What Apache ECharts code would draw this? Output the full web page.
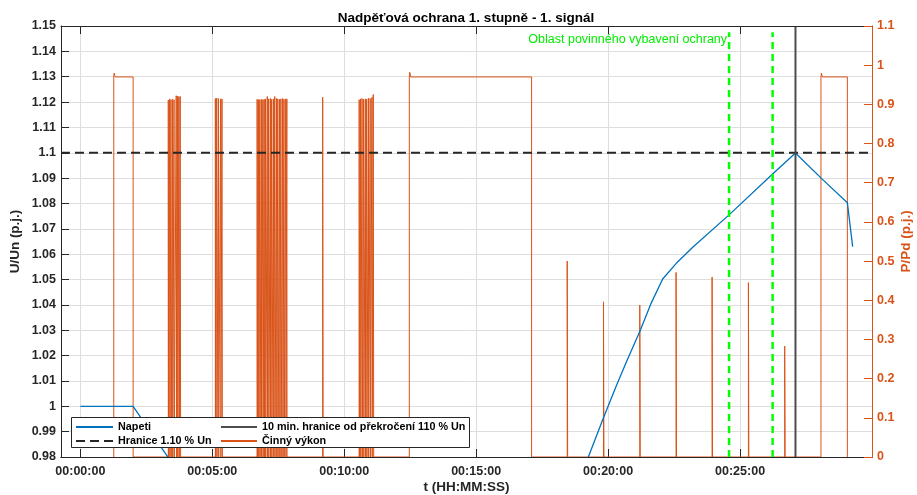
<!DOCTYPE html>
<html><head><meta charset="utf-8">
<script src="https://cdn.jsdelivr.net/npm/echarts@6/dist/echarts.min.js"></script>
<style>html,body{margin:0;padding:0;background:#fff}#c{width:917px;height:495px}</style>
</head><body><div id="c"></div>
<script>
// ---- data (time in seconds from 00:00:00) ----
const titleText = 'Nadpěťová ochrana 1. stupně - 1. signál';
const xTickValues = [0, 300, 600, 900, 1200, 1500];
const timeRange = [-44, 1800];
const uRange = [0.98, 1.15];
const pRange = [0, 1.1];

// voltage U/Un (p.j.)
const voltage = [
  [0, 1.0], [120, 1.0], [240, 0.9696], [1120, 0.9696], [1155, 0.9800],
  [1189, 0.9953], [1218, 1.0078], [1241, 1.0173], [1272, 1.0295], [1298, 1.0407],
  [1324, 1.0502], [1355, 1.0564], [1393, 1.0628], [1475, 1.0755], [1574, 1.0916],
  [1626, 1.0999], [1685, 1.0899], [1744, 1.0803], [1756, 1.0630]
];

// active power P/Pd pulses: [on, off, level]
const powerPulses = [
  [76, 120, 0.97],
  [200, 200.6, 0.911], [203, 203.6, 0.914], [206, 206.6, 0.912], [209.5, 210.1, 0.913], [213, 213.6, 0.912],
  [218, 219, 0.922], [221, 221.6, 0.921], [224, 225, 0.92], [227, 228, 0.92],
  [307, 307.6, 0.915], [310, 310.6, 0.916], [314, 314.6, 0.915], [319, 319.6, 0.914], [322, 323, 0.914],
  [402, 402.6, 0.913], [405, 405.6, 0.912], [408, 408.6, 0.912], [411.5, 412.1, 0.913], [415, 415.6, 0.912],
  [418, 418.6, 0.913], [421, 421.6, 0.914], [425, 425.6, 0.92], [428, 428.6, 0.914], [432, 432.6, 0.915],
  [435, 435.6, 0.913], [439, 439.6, 0.914], [442, 442.6, 0.92], [446, 446.6, 0.915], [449, 449.6, 0.914],
  [453, 453.6, 0.913], [456, 456.6, 0.914], [460, 460.6, 0.915], [463, 463.6, 0.913], [467, 467.6, 0.914],
  [469.5, 470, 0.914],
  [551, 552, 0.918],
  [634, 634.6, 0.912], [637, 637.6, 0.914], [640.5, 641.1, 0.915], [644, 644.6, 0.913], [648, 648.6, 0.914],
  [651, 651.6, 0.913], [655, 655.6, 0.916], [659, 659.6, 0.915], [663, 663.6, 0.918], [666, 667, 0.925],
  [748, 1026, 0.97],
  [1107, 1108, 0.5], [1189.5, 1190.5, 0.396], [1272, 1273, 0.388], [1354.5, 1355.5, 0.471],
  [1436.4, 1437.4, 0.459], [1519, 1520, 0.445], [1601.5, 1602.5, 0.283],
  [1684, 1744, 0.97]
];
const blockPeaks = [0.98, 0.982, 0.98]; // overshoot at start of long blocks

const limitU = 1.1;
const tenMinTime = 1626;
const zoneTimes = [1475, 1574];
const zoneText = 'Oblast povinného vybavení ochrany';
const zoneTextU = 1.1445;

const legendNames = ['Napeti', 'Hranice 1.10 % Un', '10 min. hranice od překročení 110 % Un', 'Činný výkon'];

// ---- build step series ----
const power = [];
let bi = 0;
powerPulses.forEach(p => {
  power.push([p[0], 0], [p[0], p[2]]);
  if (p[1] - p[0] > 20) {
    power.push([p[0] + 1, blockPeaks[bi++]], [p[0] + 3, p[2]]);
  }
  power.push([p[1], p[2]], [p[1], 0]);
});

const FONT = '"Liberation Sans", Arial, Helvetica, sans-serif';
const ORANGE = '#D95319';
const BLUE = '#0072BD';
const AXC = '#262626';

function hms(v) {
  const s = Math.round(v);
  const h = Math.floor(s / 3600), m = Math.floor((s % 3600) / 60), sec = s % 60;
  return [h, m, sec].map(x => String(x).padStart(2, '0')).join(':');
}

const legendText = {fontSize: 10.8, fontWeight: 'bold', color: '#000', lineHeight: 12, fontFamily: FONT};

const chart = echarts.init(document.getElementById('c'), null, {renderer: 'canvas'});
chart.setOption({
  animation: false,
  backgroundColor: '#fff',
  textStyle: {fontFamily: FONT},
  title: {
    text: titleText, left: 466, top: 11, textAlign: 'center', padding: 0,
    textStyle: {fontSize: 13.5, fontWeight: 'bold', color: '#000', fontFamily: FONT}
  },
  grid: {left: 61, right: 45, top: 26, bottom: 38, containLabel: false, outerBoundsMode: 'none'},
  xAxis: [
    {
      type: 'value', position: 'bottom', min: timeRange[0], max: timeRange[1],
      name: 't (HH:MM:SS)', nameLocation: 'middle', nameGap: 23, nameMoveOverlap: false,
      nameTextStyle: {fontSize: 13.5, fontWeight: 'bold', color: AXC, fontFamily: FONT},
      axisLine: {show: true, onZero: false, lineStyle: {color: AXC, width: 1}},
      axisTick: {show: true, inside: true, length: 8, customValues: xTickValues, lineStyle: {color: AXC}},
      axisLabel: {show: true, customValues: xTickValues, formatter: hms, margin: 8,
        fontSize: 12.5, fontWeight: 'bold', color: AXC, fontFamily: FONT},
      splitLine: {show: true, lineStyle: {color: '#dedede', width: 1}},
      z: 0
    },
    {
      type: 'value', position: 'top', min: timeRange[0], max: timeRange[1],
      axisLine: {show: true, onZero: false, lineStyle: {color: AXC, width: 1}},
      axisTick: {show: true, inside: true, length: 8, customValues: xTickValues, lineStyle: {color: AXC}},
      axisLabel: {show: false}, splitLine: {show: false}, z: 10
    },
    {
      type: 'value', position: 'bottom', min: timeRange[0], max: timeRange[1],
      axisLine: {show: true, onZero: false, lineStyle: {color: AXC, width: 1}},
      axisTick: {show: false}, axisLabel: {show: false}, splitLine: {show: false}, z: 10
    }
  ],
  yAxis: [
    {
      type: 'value', position: 'left', min: uRange[0], max: uRange[1], interval: 0.01,
      name: 'U/Un (p.j.)', nameLocation: 'middle', nameGap: 39, nameMoveOverlap: false,
      nameTextStyle: {fontSize: 13.5, fontWeight: 'bold', color: AXC, fontFamily: FONT},
      axisLine: {show: true, onZero: false, lineStyle: {color: AXC, width: 1}},
      axisTick: {show: true, inside: true, length: 8, lineStyle: {color: AXC}},
      axisLabel: {formatter: v => String(parseFloat(v.toFixed(2))), margin: 5,
        fontSize: 12.5, fontWeight: 'bold', color: AXC, fontFamily: FONT},
      splitLine: {show: true, lineStyle: {color: '#dedede', width: 1}}
    },
    {
      type: 'value', position: 'right', min: pRange[0], max: pRange[1], interval: 0.1,
      name: 'P/Pd (p.j.)', nameLocation: 'middle', nameGap: 27, nameMoveOverlap: false,
      nameTextStyle: {fontSize: 13.5, fontWeight: 'bold', color: ORANGE, fontFamily: FONT},
      axisLine: {show: true, onZero: false, lineStyle: {color: ORANGE, width: 1}},
      axisTick: {show: true, inside: true, length: 8, lineStyle: {color: ORANGE}},
      axisLabel: {formatter: v => String(parseFloat(v.toFixed(1))), margin: 5,
        fontSize: 12.5, fontWeight: 'bold', color: ORANGE, fontFamily: FONT},
      splitLine: {show: false}, z: 10
    }
  ],
  legend: [
    {
      data: [legendNames[0], legendNames[1]], orient: 'vertical', left: 75, top: 421, padding: 0,
      itemWidth: 37, itemHeight: 12, itemGap: 2, z: 60,
      itemStyle: {opacity: 0}, textStyle: legendText
    },
    {
      data: [legendNames[2], legendNames[3]], orient: 'vertical', left: 220, top: 421, padding: 0,
      itemWidth: 36, itemHeight: 12, itemGap: 2, z: 60,
      itemStyle: {opacity: 0}, textStyle: legendText
    }
  ],
  graphic: [{
    type: 'rect', z: 50, left: 71, top: 417,
    shape: {width: 398, height: 30},
    style: {fill: '#fff', stroke: AXC, lineWidth: 1}
  }],
  series: [
    {
      name: legendNames[3], type: 'line', xAxisIndex: 0, yAxisIndex: 1, data: power,
      symbol: 'none', lineStyle: {color: ORANGE, width: 1}, itemStyle: {color: ORANGE}, z: 2
    },
    {
      name: legendNames[0], type: 'line', xAxisIndex: 0, yAxisIndex: 0, data: voltage,
      symbol: 'none', lineStyle: {color: BLUE, width: 1.3}, itemStyle: {color: BLUE}, z: 3
    },
    {
      name: legendNames[1], type: 'line', xAxisIndex: 0, yAxisIndex: 0,
      data: [[timeRange[0], limitU], [timeRange[1], limitU]],
      symbol: 'none', lineStyle: {color: AXC, width: 2, type: [9, 5]}, itemStyle: {color: AXC}, z: 4
    },
    {
      name: legendNames[2], type: 'line', xAxisIndex: 0, yAxisIndex: 0,
      data: [[tenMinTime, uRange[0]], [tenMinTime, uRange[1]]],
      symbol: 'none', lineStyle: {color: '#4d4d4d', width: 2}, itemStyle: {color: '#4d4d4d'}, z: 4
    },
    {
      name: 'zone1', type: 'line', xAxisIndex: 0, yAxisIndex: 0,
      data: [[zoneTimes[0], uRange[0]], [zoneTimes[0], 1.1475]],
      symbol: 'none', lineStyle: {color: '#00ff00', width: 2.5, type: [7, 5]}, z: 4,
      markPoint: {
        symbol: 'circle', symbolSize: 0,
        label: {show: true, position: 'left', distance: 2, formatter: zoneText,
          fontSize: 12.5, color: '#00ee00', fontFamily: FONT},
        data: [{coord: [zoneTimes[0], zoneTextU]}]
      }
    },
    {
      name: 'zone2', type: 'line', xAxisIndex: 0, yAxisIndex: 0,
      data: [[zoneTimes[1], uRange[0]], [zoneTimes[1], 1.1475]],
      symbol: 'none', lineStyle: {color: '#00ff00', width: 2.5, type: [7, 5]}, z: 4
    }
  ]
});
</script>
</body></html>
